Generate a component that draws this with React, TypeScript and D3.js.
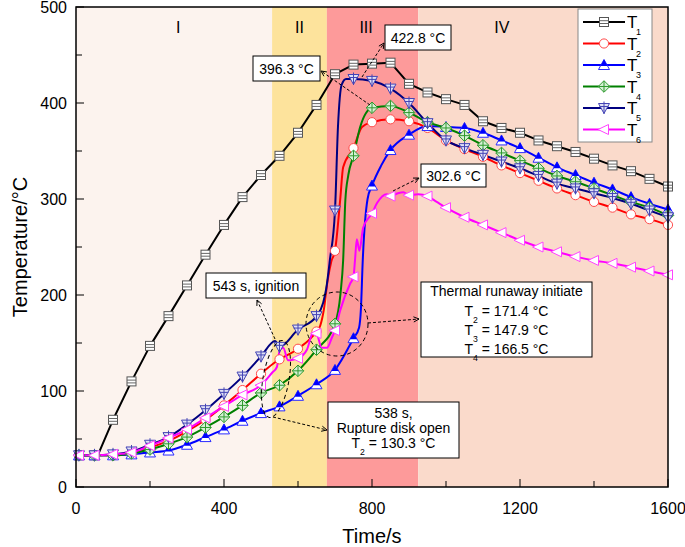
import React from 'react';
import * as d3 from 'd3';

// ---- Data (time in s, temperature in °C) ----
const T1: [number, number][] = [
  [0, 33], [50, 33], [60, 34], [100, 70], [150, 110], [200, 147], [250, 178], [300, 210], [350, 242],
  [400, 273], [450, 302], [500, 325], [550, 345], [600, 369], [650, 398], [700, 430], [750, 440],
  [800, 441], [850, 442], [900, 420], [950, 411], [1000, 404], [1050, 398], [1100, 381], [1150, 374],
  [1200, 369], [1250, 361], [1300, 355], [1350, 349], [1400, 342], [1450, 335], [1500, 329],
  [1550, 321], [1600, 313],
];
const T2: [number, number][] = [
  [0, 33], [50, 33], [100, 33], [150, 35], [200, 41], [250, 48], [300, 58], [350, 70], [400, 85],
  [450, 101], [500, 118], [538, 130], [550, 133], [600, 144], [650, 162], [660, 168], [670, 185],
  [680, 215], [690, 235], [700, 246], [714, 299], [722, 333], [750, 353], [773, 375], [800, 380],
  [850, 383], [900, 381], [950, 374], [1000, 361], [1050, 352], [1100, 344], [1150, 335], [1200, 327],
  [1250, 319], [1300, 311], [1350, 304], [1400, 297], [1450, 291], [1500, 284], [1550, 279], [1600, 273],
];
const T3: [number, number][] = [
  [0, 33], [50, 33], [100, 33], [150, 34], [200, 36], [250, 38], [300, 44], [350, 52], [400, 60],
  [450, 69], [500, 77], [550, 84], [600, 95], [650, 107], [700, 122], [750, 155], [765, 166],
  [770, 185], [775, 236], [788, 300], [800, 314], [825, 335], [850, 351], [900, 367], [950, 376],
  [1000, 375], [1050, 374], [1100, 369], [1150, 361], [1200, 353], [1250, 343], [1300, 333],
  [1350, 325], [1400, 317], [1450, 310], [1500, 302], [1550, 295], [1600, 289],
];
const T4: [number, number][] = [
  [0, 33], [50, 33], [100, 33], [150, 35], [200, 39], [250, 45], [300, 52], [350, 62], [400, 73],
  [450, 85], [500, 98], [550, 106], [600, 121], [650, 143], [700, 170], [715, 202], [722, 236],
  [728, 299], [736, 325], [750, 345], [768, 375], [800, 395], [850, 397], [900, 390], [950, 380],
  [1000, 374], [1050, 366], [1100, 356], [1150, 348], [1200, 340], [1250, 332], [1300, 324],
  [1350, 318], [1400, 311], [1450, 304], [1500, 297], [1550, 291], [1600, 283],
];
const T5: [number, number][] = [
  [0, 33], [50, 33], [100, 34], [150, 37], [200, 44], [250, 52], [300, 65], [350, 80], [400, 97],
  [450, 115], [500, 136], [538, 152], [550, 146], [600, 164], [650, 178], [668, 192], [676, 206],
  [686, 236], [700, 288], [708, 375], [718, 419], [730, 425], [750, 425], [800, 423], [850, 415],
  [900, 400], [950, 379], [1000, 361], [1050, 353], [1100, 346], [1150, 339], [1200, 332],
  [1250, 324], [1300, 316], [1350, 311], [1400, 306], [1450, 301], [1500, 295], [1550, 288], [1600, 281],
];
const T6: [number, number][] = [
  [0, 33], [50, 33], [100, 34], [150, 36], [200, 43], [250, 51], [300, 60], [350, 72], [400, 84],
  [450, 96], [500, 106], [530, 119], [543, 125], [551, 143], [560, 145], [573, 132], [590, 133],
  [600, 134], [624, 143], [641, 161], [650, 160], [664, 145], [678, 145], [692, 156], [700, 163],
  [714, 184], [741, 212], [750, 219], [754, 236], [759, 258], [766, 246], [776, 270], [800, 285],
  [814, 296], [840, 305], [850, 303], [870, 306], [885, 307], [900, 304], [925, 305], [950, 303],
  [975, 297], [1000, 291], [1050, 281], [1100, 273], [1150, 265], [1200, 257], [1250, 250],
  [1300, 245], [1350, 240], [1400, 236], [1450, 233], [1500, 229], [1550, 225], [1600, 221],
];

const seriesNames = ['1', '2', '3', '4', '5', '6'];
const seriesColors = ['#000000', '#ff0000', '#0000ff', '#008000', '#000080', '#ff00ff'];
const seriesData = [T1, T2, T3, T4, T5, T6];

const xTicks = [0, 400, 800, 1200, 1600];
const xMinor = [200, 600, 1000, 1400];
const yTicks = [0, 100, 200, 300, 400, 500];
const yMinor = [50, 150, 250, 350, 450];

const stageBounds = [0, 530, 678, 925, 1600];
const stageColors = ['#fcf3ee', '#fde39c', '#fd9a9a', '#fadacb'];
const stageLabels = ['I', 'II', 'III', 'IV'];
const stageLabelT = [276, 604, 784, 1151];

const FONT = '"Liberation Sans", Arial, Helvetica, sans-serif';

const xS = d3.scaleLinear().domain([0, 1600]).range([76, 668]);
const yS = d3.scaleLinear().domain([0, 500]).range([487, 7]);

function Marker({ kind, x, y }: { kind: number; x: number; y: number }) {
  const tr = `translate(${x},${y})`;
  switch (kind) {
    case 0:
      return (
        <g transform={tr}>
          <rect x={-4.5} y={-4.5} width={9} height={9} fill="#fff" stroke="#555" strokeWidth={1} />
          <line x1={-4.5} x2={4.5} y1={-1.3} y2={-1.3} stroke="#666" strokeWidth={1} />
          <line x1={-4.5} x2={4.5} y1={1.5} y2={1.5} stroke="#666" strokeWidth={1} />
        </g>
      );
    case 1:
      return <circle cx={x} cy={y} r={4.6} fill="#fff" stroke="#ff4a4a" strokeWidth={1} />;
    case 2:
      return (
        <g transform={tr}>
          <polygon points="0,-5.5 5.5,4.5 -5.5,4.5" fill="#fff" stroke="#2a2aff" strokeWidth={1} />
          <polygon points="0,-5.5 3.6,1 -3.6,1" fill="#0000ff" />
        </g>
      );
    case 3:
      return (
        <g transform={tr}>
          <polygon points="0,-5.8 5.8,0 0,5.8 -5.8,0" fill="#d6f0d6" stroke="#2f9a2f" strokeWidth={1} />
          <line x1={0} x2={0} y1={-5.5} y2={5.5} stroke="#2f9a2f" strokeWidth={1} />
          <line x1={-5.5} x2={5.5} y1={0} y2={0} stroke="#2f9a2f" strokeWidth={1} />
        </g>
      );
    case 4:
      return (
        <g transform={tr}>
          <polygon points="-5.5,-4.5 5.5,-4.5 0,5.5" fill="#dfe0f5" stroke="#4545b5" strokeWidth={1} />
          <line x1={0} x2={0} y1={-6.5} y2={6} stroke="#4545b5" strokeWidth={1} />
          <line x1={-4.5} x2={4.5} y1={-1.5} y2={-1.5} stroke="#4545b5" strokeWidth={1} />
        </g>
      );
    default:
      return (
        <g transform={tr}>
          <polygon points="-6,0 4.5,-5 4.5,5" fill="#fff" stroke="#ff44ff" strokeWidth={1} />
        </g>
      );
  }
}

function Arrow({ x1, y1, x2, y2 }: { x1: number; y1: number; x2: number; y2: number }) {
  const a = Math.atan2(y2 - y1, x2 - x1);
  const L = 6;
  const s = 0.45;
  const p1 = [x2 - L * Math.cos(a - s), y2 - L * Math.sin(a - s)];
  const p2 = [x2 - L * Math.cos(a + s), y2 - L * Math.sin(a + s)];
  return (
    <g stroke="#000" strokeWidth={1} fill="none">
      <line x1={x1} y1={y1} x2={x2} y2={y2} strokeDasharray="3,2" />
      <polyline points={`${p1[0]},${p1[1]} ${x2},${y2} ${p2[0]},${p2[1]}`} />
    </g>
  );
}

function TSub({ x, y, n, rest, size, anchor }: { x: number; y: number; n: string; rest: string; size: number; anchor?: string }) {
  return (
    <text x={x} y={y} fontSize={size} fontFamily={FONT} textAnchor={anchor || 'start'}>
      T<tspan fontSize={size * 0.62} dy={size * 0.5}>{n}</tspan>
      <tspan dy={-size * 0.5}>{rest}</tspan>
    </text>
  );
}

export default function App() {
  const lineGen = d3
    .line<[number, number]>()
    .x((d) => xS(d[0]))
    .y((d) => yS(d[1]))
    .curve(d3.curveMonotoneX);
  const lineLin = d3
    .line<[number, number]>()
    .x((d) => xS(d[0]))
    .y((d) => yS(d[1]));

  const legendY = [22, 43.5, 65, 86.5, 108, 129.5];

  return (
    <svg width={685} height={547} style={{ position: 'absolute', left: 0, top: 0 }} fontFamily={FONT}>
      <rect x={0} y={0} width={685} height={547} fill="#fff" />
      {/* stages */}
      {stageColors.map((c, i) => (
        <rect
          key={i}
          x={xS(stageBounds[i])}
          y={yS(500)}
          width={xS(stageBounds[i + 1]) - xS(stageBounds[i])}
          height={yS(0) - yS(500)}
          fill={c}
        />
      ))}
      {stageLabels.map((l, i) => (
        <text key={l} x={xS(stageLabelT[i])} y={33} fontSize={16} textAnchor="middle">
          {l}
        </text>
      ))}

      {/* series lines */}
      {seriesData.map((d, i) => (
        <path
          key={'l' + i}
          d={(i === 0 ? lineLin(d) : lineGen(d)) || ''}
          fill="none"
          stroke={seriesColors[i]}
          strokeWidth={2}
          strokeLinejoin="round"
        />
      ))}
      {/* markers */}
      {seriesData.map((d, i) => (
        <g key={'m' + i}>
          {d
            .filter((p) => p[0] % 50 === 0)
            .map((p, j) => (
              <Marker key={j} kind={i} x={xS(p[0]) + (p[0] === 0 ? 3 : 0)} y={yS(p[1])} />
            ))}
        </g>
      ))}

      {/* frame and ticks */}
      <rect x={76} y={7} width={592} height={480} fill="none" stroke="#000" strokeWidth={1.5} />
      {xTicks.map((t) => (
        <g key={'xt' + t}>
          <line x1={xS(t)} x2={xS(t)} y1={487} y2={479} stroke="#000" strokeWidth={1} />
          <text x={xS(t)} y={514} fontSize={16} textAnchor="middle">
            {t}
          </text>
        </g>
      ))}
      {xMinor.map((t) => (
        <line key={'xm' + t} x1={xS(t)} x2={xS(t)} y1={487} y2={481} stroke="#000" strokeWidth={1} />
      ))}
      {yTicks.map((t) => (
        <g key={'yt' + t}>
          <line x1={76} x2={84} y1={yS(t)} y2={yS(t)} stroke="#000" strokeWidth={1} />
          <text x={67} y={yS(t) + 6} fontSize={16} textAnchor="end">
            {t}
          </text>
        </g>
      ))}
      {yMinor.map((t) => (
        <line key={'ym' + t} x1={76} x2={82} y1={yS(t)} y2={yS(t)} stroke="#000" strokeWidth={1} />
      ))}
      <text x={372} y={543} fontSize={20} textAnchor="middle">
        Time/s
      </text>
      <text transform="translate(27,247) rotate(-90)" fontSize={20} textAnchor="middle">
        Temperature/°C
      </text>

      {/* legend */}
      <rect x={578} y={9} width={74} height={133} fill="#fff" stroke="#888" strokeWidth={1} />
      {seriesNames.map((n, i) => (
        <g key={'lg' + i}>
          <line x1={583} x2={625} y1={legendY[i]} y2={legendY[i]} stroke={seriesColors[i]} strokeWidth={2} />
          <Marker kind={i} x={604} y={legendY[i]} />
          <text x={627} y={legendY[i] + 6} fontSize={17}>
            T
          </text>
          <text x={636} y={legendY[i] + 13} fontSize={9}>
            {n}
          </text>
        </g>
      ))}

      {/* annotations */}
      <Arrow x1={370} y1={105} x2={321} y2={71} />
      <rect x={253} y={56} width={67} height={25} fill="#fff" stroke="#000" strokeWidth={1} />
      <text x={286.5} y={74} fontSize={14} textAnchor="middle">396.3 °C</text>

      <Arrow x1={362} y1={77} x2={384} y2={43} />
      <rect x={385} y={25} width={66} height={25} fill="#fff" stroke="#000" strokeWidth={1} />
      <text x={418} y={43} fontSize={14} textAnchor="middle">422.8 °C</text>

      <Arrow x1={393} y1={191} x2={419} y2={178} />
      <rect x={421} y={164} width={65} height={23} fill="#fff" stroke="#000" strokeWidth={1} />
      <text x={453.5} y={181} fontSize={14} textAnchor="middle">302.6 °C</text>

      <ellipse cx={276} cy={379} rx={13} ry={39} transform="rotate(10,276,379)" fill="none" stroke="#000" strokeWidth={1} strokeDasharray="4,3" />
      <Arrow x1={275} y1={339} x2={257} y2={300} />
      <rect x={206} y={273} width={100} height={25} fill="#fff" stroke="#000" strokeWidth={1} />
      <text x={256} y={291} fontSize={14} textAnchor="middle">543 s, ignition</text>

      <Arrow x1={273} y1={417} x2={327} y2={430} />
      <rect x={328} y={402} width={131} height={56} fill="#fff" stroke="#000" strokeWidth={1} />
      <text x={393.5} y={418} fontSize={14} textAnchor="middle">538 s,</text>
      <text x={393.5} y={433} fontSize={14} textAnchor="middle">Rupture disk open</text>
      <TSub x={393.5} y={448} n="2" rest=" = 130.3 °C" size={14} anchor="middle" />

      <ellipse cx={337} cy={324} rx={31} ry={32} fill="none" stroke="#000" strokeWidth={1} strokeDasharray="4,3" />
      <Arrow x1={368} y1={323} x2={419} y2={319} />
      <rect x={421} y={282} width={171} height={75} fill="#fff" stroke="#000" strokeWidth={1} />
      <text x={506.5} y={296} fontSize={14} textAnchor="middle">Thermal runaway initiate</text>
      <TSub x={506.5} y={316} n="2" rest=" = 171.4 °C" size={14} anchor="middle" />
      <TSub x={506.5} y={335} n="3" rest=" = 147.9 °C" size={14} anchor="middle" />
      <TSub x={506.5} y={354} n="4" rest=" = 166.5 °C" size={14} anchor="middle" />
    </svg>
  );
}
